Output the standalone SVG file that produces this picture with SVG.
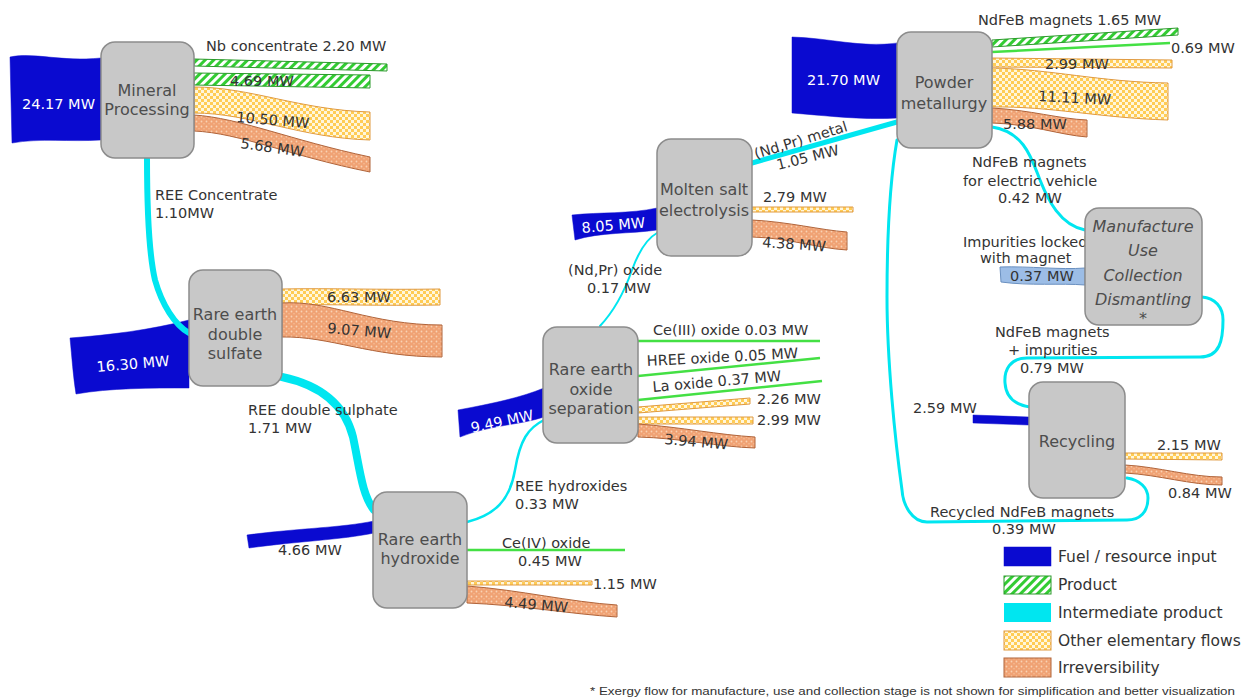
<svg xmlns="http://www.w3.org/2000/svg" width="1246" height="700" viewBox="0 0 1246 700">
<defs>
<pattern id="hatch" width="6" height="6" patternUnits="userSpaceOnUse" patternTransform="rotate(45)"><rect width="6" height="6" fill="#ffffff"/><rect width="3" height="6" fill="#33cc33"/></pattern>
<pattern id="check" width="6" height="6" patternUnits="userSpaceOnUse"><rect width="6" height="6" fill="#fff6dc"/><rect width="3" height="3" fill="#ffcc55"/><rect x="3" y="3" width="3" height="3" fill="#ffcc55"/></pattern>
<pattern id="dots" width="5" height="5" patternUnits="userSpaceOnUse"><rect width="5" height="5" fill="#f0a274"/><circle cx="1.5" cy="1.5" r="0.9" fill="#f9d2b4"/><circle cx="4" cy="3.8" r="0.7" fill="#f6c4a0"/></pattern>
<style>
.node rect{fill:#c8c8c8;stroke:#8c8c8c;stroke-width:1.5}
.nt{font-family:"DejaVu Sans",Verdana,sans-serif;font-size:16px;fill:#4d4d4d;text-anchor:middle}
.it{font-style:italic}
.lb{font-family:"DejaVu Sans",Verdana,sans-serif;font-size:14.5px;fill:#333333}
.wl{font-family:"DejaVu Sans",Verdana,sans-serif;font-size:14.5px;fill:#ffffff}
.lg{font-family:"DejaVu Sans",Verdana,sans-serif;font-size:15.5px;fill:#333333}
.fuel{fill:#0a0ad0;stroke:#0a0ad0;stroke-width:0.5}
.prod{fill:url(#hatch);stroke:#2a9a2a;stroke-width:1}
.oth{fill:url(#check);stroke:#e09a40;stroke-width:1}
.irr{fill:url(#dots);stroke:#b0643a;stroke-width:1}
.imp{fill:#9cbde6;stroke:#6a90c0;stroke-width:1}
.cy{fill:none;stroke:#00e6f0;stroke-linecap:round}
.gl{fill:none;stroke:#44e044;stroke-width:2.5}
</style>
</defs>
<rect width="1246" height="700" fill="#ffffff"/>

<g id="flows">
<!-- Mineral processing -->
<path class="fuel" d="M10,57 C35,52 60,62 101,58 L101,140 C70,142 40,138 12,143 Z"/>
<path class="prod" d="M194,59 L387,64 L387,71 L194,66 Z"/>
<path class="prod" d="M194,73 L370,75 L370,88 L194,85 Z"/>
<path class="oth" d="M194,87 C250,87 300,110 370,112 L370,140 C300,138 250,113 194,113 Z"/>
<path class="irr" d="M194,115 C240,118 290,140 370,157 L370,172 C290,156 240,133 194,131 Z"/>
<!-- Double sulfate -->
<path class="fuel" d="M70,338 C110,335 150,330 189,320 L189,388 C150,388 110,388 76,394 C73,375 72,358 70,338 Z"/>
<path class="oth" d="M282,289 C330,288 380,290 440,289 L440,305 C380,306 330,304 282,305 Z"/>
<path class="irr" d="M282,303 C330,300 370,325 442,325 L442,357 C370,357 330,336 282,337 Z"/>
<!-- Hydroxide -->
<path class="fuel" d="M247,535 C300,528 340,528 374,521 L374,533 C340,540 300,541 249,548 Z"/>
<path class="gl" d="M467,550 L625,550"/>
<path class="oth" d="M467,581 L592,581 L592,585 L467,585 Z"/>
<path class="irr" d="M467,586 C520,590 570,602 617,605 L617,617 C570,614 520,605 467,603 Z"/>
<!-- Oxide separation -->
<path class="fuel" d="M458,410 C490,404 520,398 544,388 L544,417 C520,425 490,425 460,437 Z"/>
<path class="gl" d="M638,341 L820,341"/>
<path class="gl" d="M638,376 L820,358"/>
<path class="gl" d="M638,400 L822,381"/>
<path class="oth" d="M638,407 L750,398 L750,404 L638,413 Z"/>
<path class="oth" d="M638,417 L753,417 L753,424 L638,424 Z"/>
<path class="irr" d="M638,424 C680,427 720,435 755,437 L755,448 C720,447 680,438 638,437 Z"/>
<!-- Electrolysis -->
<path class="fuel" d="M572,215 C600,212 630,214 657,208 L657,230 C630,234 600,232 575,240 Z"/>
<path class="oth" d="M752,207 L853,207 L853,212 L752,212 Z"/>
<path class="irr" d="M752,220 C790,222 820,230 847,232 L847,250 C815,248 790,238 752,237 Z"/>
<!-- Powder metallurgy -->
<path class="fuel" d="M792,37 C830,38 860,48 898,43 L898,118 C860,120 830,116 792,113 Z"/>
<path class="prod" d="M992,40 L1178,28 L1178,35 L992,47 Z"/>
<path class="gl" d="M992,52 L1170,43"/>
<path class="oth" d="M992,58 L1172,60 L1172,68 L992,67 Z"/>
<path class="oth" d="M992,68 C1050,69 1100,82 1168,83 L1168,120 C1100,118 1050,106 992,107 Z"/>
<path class="irr" d="M992,108 C1030,110 1060,119 1087,120 L1087,137 C1060,135 1030,124 992,123 Z"/>
<!-- Manufacture / recycling -->
<path class="imp" d="M1000,267 C1030,266 1060,270 1085,268 L1085,285 C1060,283 1030,286 1001,282 Z"/>
<path class="fuel" d="M973,415 L1029,417 L1029,425 L973,423 Z"/>
<path class="oth" d="M1125,453 L1222,453 L1222,460 L1125,459 Z"/>
<path class="irr" d="M1125,465 C1160,467 1190,477 1222,477 L1222,485 C1190,485 1160,475 1125,473 Z"/>
</g>

<g id="connectors">
<path class="cy" stroke-width="6" d="M147,158 C147,200 148,250 155,280 C162,305 175,325 189,333"/>
<path class="cy" stroke-width="8" d="M282,377 C320,385 345,405 353,437 C360,470 362,495 374,510"/>
<path class="cy" stroke-width="2.5" d="M467,522 C495,515 510,500 515,470 C520,440 528,428 544,420"/>
<path class="cy" stroke-width="2" d="M600,326 C615,310 625,290 632,270 C640,248 648,238 657,233"/>
<path class="cy" stroke-width="5" d="M752,163 L897,122"/>
<path class="cy" stroke-width="3" d="M992,127 C1025,132 1032,160 1040,180 C1048,200 1060,225 1085,230"/>
<path class="cy" stroke-width="3" d="M1202,297 C1215,298 1223,307 1223,320 C1223,340 1220,357 1200,357 L1027,358 C1010,358 1004,370 1005,383 C1006,398 1016,405 1030,407"/>
<path class="cy" stroke-width="3" d="M1127,478 C1140,480 1148,488 1148,498 C1148,512 1140,520 1127,520 L927,522 C912,522 903,505 902,490 C895,440 887,360 887,297 C887,230 890,180 897,140"/>
</g>

<g id="labels">
<text class="wl" x="22" y="109">24.17 MW</text>
<text class="lb" x="206" y="51">Nb concentrate 2.20 MW</text>
<text class="lb" x="230" y="86">4.69 MW</text>
<text class="lb" x="236" y="122" transform="rotate(5 236 122)">10.50 MW</text>
<text class="lb" x="240" y="148" transform="rotate(8 240 148)">5.68 MW</text>
<text class="lb" x="155" y="200">REE Concentrate</text>
<text class="lb" x="155" y="218">1.10MW</text>
<text class="wl" x="97" y="372" transform="rotate(-5 97 372)">16.30 MW</text>
<text class="lb" x="327" y="302">6.63 MW</text>
<text class="lb" x="327" y="333" transform="rotate(5 327 333)">9.07 MW</text>
<text class="lb" x="248" y="415">REE double sulphate</text>
<text class="lb" x="248" y="433">1.71 MW</text>
<text class="lb" x="278" y="555">4.66 MW</text>
<text class="lb" x="515" y="491">REE hydroxides</text>
<text class="lb" x="515" y="509">0.33 MW</text>
<text class="lb" x="502" y="548">Ce(IV) oxide</text>
<text class="lb" x="518" y="566">0.45 MW</text>
<text class="lb" x="593" y="589">1.15 MW</text>
<text class="lb" x="504" y="607" transform="rotate(5 504 607)">4.49 MW</text>
<text class="wl" x="472" y="433" transform="rotate(-12 472 433)">9.49 MW</text>
<text class="lb" x="653" y="335">Ce(III) oxide 0.03 MW</text>
<text class="lb" x="647" y="366" transform="rotate(-3 647 366)">HREE oxide 0.05 MW</text>
<text class="lb" x="653" y="392" transform="rotate(-5 653 392)">La oxide 0.37 MW</text>
<text class="lb" x="757" y="404">2.26 MW</text>
<text class="lb" x="757" y="425">2.99 MW</text>
<text class="lb" x="664" y="444" transform="rotate(5 664 444)">3.94 MW</text>
<text class="lb" x="568" y="275">(Nd,Pr) oxide</text>
<text class="lb" x="587" y="293">0.17 MW</text>
<text class="wl" x="582" y="233" transform="rotate(-5 582 233)">8.05 MW</text>
<text class="lb" x="756" y="159" transform="rotate(-17 756 159)">(Nd,Pr) metal</text>
<text class="lb" x="778" y="170" transform="rotate(-14 778 170)">1.05 MW</text>
<text class="lb" x="763" y="202">2.79 MW</text>
<text class="lb" x="762" y="247" transform="rotate(4 762 247)">4.38 MW</text>
<text class="wl" x="807" y="85">21.70 MW</text>
<text class="lb" x="978" y="25">NdFeB magnets 1.65 MW</text>
<text class="lb" x="1171" y="53">0.69 MW</text>
<text class="lb" x="1045" y="69">2.99 MW</text>
<text class="lb" x="1038" y="101" transform="rotate(3 1038 101)">11.11 MW</text>
<text class="lb" x="1003" y="129">5.88 MW</text>
<text class="lb" x="972" y="167">NdFeB magnets</text>
<text class="lb" x="963" y="186">for electric vehicle</text>
<text class="lb" x="998" y="203">0.42 MW</text>
<text class="lb" x="963" y="247">Impurities locked</text>
<text class="lb" x="980" y="263">with magnet</text>
<text class="lb" x="1010" y="281">0.37 MW</text>
<text class="lb" x="995" y="337">NdFeB magnets</text>
<text class="lb" x="1008" y="355">+ impurities</text>
<text class="lb" x="1020" y="373">0.79 MW</text>
<text class="lb" x="913" y="413">2.59 MW</text>
<text class="lb" x="1157" y="450">2.15 MW</text>
<text class="lb" x="1168" y="498">0.84 MW</text>
<text class="lb" x="930" y="517">Recycled NdFeB magnets</text>
<text class="lb" x="992" y="534">0.39 MW</text>
</g>

<g id="n-mineral" class="node"><rect x="101" y="42" width="93" height="116" rx="14"/><text class="nt" x="147" y="96">Mineral</text><text class="nt" x="147" y="115">Processing</text></g>
<g id="n-sulfate" class="node"><rect x="189" y="270" width="93" height="116" rx="14"/><text class="nt" x="235" y="320">Rare earth</text><text class="nt" x="235" y="340">double</text><text class="nt" x="235" y="359">sulfate</text></g>
<g id="n-hydroxide" class="node"><rect x="373" y="492" width="94" height="116" rx="14"/><text class="nt" x="420" y="545">Rare earth</text><text class="nt" x="420" y="564">hydroxide</text></g>
<g id="n-oxide" class="node"><rect x="543" y="327" width="95" height="116" rx="14"/><text class="nt" x="591" y="375">Rare earth</text><text class="nt" x="591" y="395">oxide</text><text class="nt" x="591" y="414">separation</text></g>
<g id="n-electrolysis" class="node"><rect x="657" y="139" width="95" height="117" rx="14"/><text class="nt" x="704" y="195">Molten salt</text><text class="nt" x="704" y="216">electrolysis</text></g>
<g id="n-powder" class="node"><rect x="897" y="32" width="95" height="116" rx="14"/><text class="nt" x="944" y="88">Powder</text><text class="nt" x="944" y="109">metallurgy</text></g>
<g id="n-manufacture" class="node"><rect x="1085" y="208" width="117" height="117" rx="14"/><text class="nt it" x="1143" y="232">Manufacture</text><text class="nt it" x="1143" y="256">Use</text><text class="nt it" x="1143" y="281">Collection</text><text class="nt it" x="1143" y="305">Dismantling</text><text class="nt" x="1143" y="324">*</text></g>
<g id="n-recycling" class="node"><rect x="1029" y="382" width="96" height="116" rx="14"/><text class="nt" x="1077" y="447">Recycling</text></g>

<g id="legend">
<rect class="fuel" x="1004" y="547" width="47" height="19"/>
<text class="lg" x="1058" y="562">Fuel / resource input</text>
<rect class="prod" x="1004" y="576" width="47" height="18"/>
<text class="lg" x="1058" y="590">Product</text>
<rect x="1004" y="603" width="47" height="19" fill="#00e6f0"/>
<text class="lg" x="1058" y="618">Intermediate product</text>
<rect class="oth" x="1004" y="631" width="47" height="19"/>
<text class="lg" x="1058" y="646">Other elementary flows</text>
<rect class="irr" x="1004" y="658" width="47" height="19"/>
<text class="lg" x="1058" y="673">Irreversibility</text>
</g>
<text x="590" y="695" font-family="'Liberation Sans',Arial,sans-serif" font-size="11.5" fill="#333" textLength="645" lengthAdjust="spacingAndGlyphs">* Exergy flow for manufacture, use and collection stage is not shown for simplification and better visualization</text>
</svg>
